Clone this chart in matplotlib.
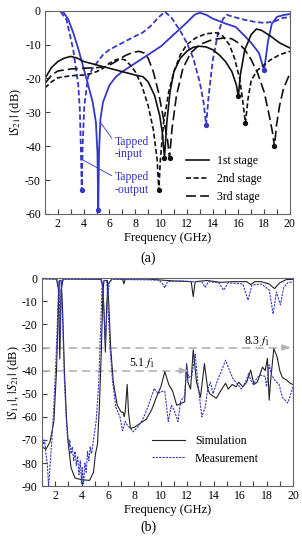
import matplotlib
matplotlib.use('Agg')
import matplotlib.pyplot as plt
from matplotlib.ticker import MultipleLocator

plt.rcParams['font.family'] = ['Liberation Serif', 'DejaVu Serif']
plt.rcParams['mathtext.fontset'] = 'stix'
plt.rcParams['axes.unicode_minus'] = False
plt.rcParams['font.size'] = 8.5

BLUE = '#3636c8'
GRAY = '#b4b4b4'

# ---- (a) |S21| of the stages ----
tin_x = [1, 2.0, 2.4, 2.8, 3.2, 3.6, 3.96, 4.35, 4.7, 4.95, 5.07, 5.13, 5.19, 5.3, 5.5, 6.0, 6.5, 7.0, 8.0, 9.0,
         10.0, 11.0, 12.0, 12.6, 13.0, 13.5, 14.0, 15.0, 15.8, 16.5, 17.0, 17.6, 18.0, 18.3, 18.6, 19.0, 19.6, 20]
tin_y = [0, 0, -0.3, -2.5, -6.6, -11.5, -16.5, -22, -27, -33, -42, -59, -42, -32, -27, -22, -19.5, -18, -15.5, -13,
         -10.5, -7, -3.5, -1.2, -0.6, -1.2, -2.3, -3.8, -4.8, -7.5, -9.5, -12.5, -17.6, -9, -3.8, -1.8, -1.2, -1]

tout_x = [1, 2.16, 2.67, 3.19, 3.57, 3.7, 3.78, 3.85, 3.92, 4.05, 4.35, 4.7, 5.0, 5.5, 6.0, 7.0, 8.0, 8.6, 9.2, 9.8,
          10.3, 10.8, 11.5, 12.0, 12.5, 13.0, 13.3, 13.5, 13.7, 14.0, 14.4, 14.8, 15.1, 15.6, 16.5, 17.3, 18.0,
          18.8, 19.4, 20]
tout_y = [0, 0, -2.7, -11.5, -21.4, -29, -40, -53, -40, -28, -19.4, -17, -15.5, -13, -11.5, -9.5, -7.5, -6.4, -4.5, -2,
          -0.3, -2, -6, -9.5, -14, -21, -27, -33.7, -25, -15, -7, -2.5, -1.2, -1.8, -2.7, -3.3, -3.6,
          -3.2, -2.2, -1.8]

st1_x = [1.0, 1.5, 2.0, 2.5, 3.0, 3.5, 4.0, 5.0, 6.0, 7.0, 8.0, 8.6, 9.0, 9.5, 9.9, 10.1, 10.27, 10.45, 10.7, 11.0,
         11.5, 12.0, 12.5, 13.0, 13.5, 14.0, 14.5, 15.0, 15.5, 15.85, 16.0, 16.15, 16.5, 17.0, 17.4, 17.8, 18.5,
         19.2, 20]
st1_y = [-20, -16.8, -15, -14, -13.5, -14, -15, -16, -17, -18, -19, -19.5, -21, -25, -31, -36, -43.4, -33, -24, -18,
         -14, -12, -10.8, -10.5, -10.7, -11.5, -13, -15, -18, -22, -25.3, -19, -11.5, -7, -5.4, -5.8, -7.5,
         -9.5, -11]

st2_x = [1.0, 1.5, 2.0, 3.0, 4.0, 4.5, 5.0, 5.5, 6.0, 6.5, 6.8, 7.2, 7.6, 8.0, 8.5, 9.0, 9.4, 9.7, 9.83, 9.95, 10.2,
         10.6, 11.0, 11.5, 12.0, 12.7, 13.5, 14.3, 14.8, 15.3, 15.7, 16.1, 16.35, 16.55, 16.75, 17.0, 17.5, 18.0,
         18.5, 19.2, 20]
st2_y = [-22.8, -21, -19.8, -19.2, -19, -18.6, -18, -17, -15.5, -14.5, -14.2, -14.5, -16, -18, -22, -28, -35, -44,
         -53, -44, -33, -24, -18, -13, -10, -8, -6.8, -6.5, -7.5, -10, -14, -20, -27, -33.2, -26, -20.5, -17.5,
         -16, -14.5, -13, -12]

st3_x = [1.0, 1.5, 2.0, 3.0, 4.0, 5.0, 5.8, 6.5, 7.2, 7.8, 8.3, 8.7, 9.0, 9.4, 9.8, 10.2, 10.5, 10.66, 10.85, 11.2,
         11.7, 12.3, 13.0, 14.0, 15.0, 15.5, 16.0, 16.5, 17.0, 17.5, 18.0, 18.4, 18.65, 18.8, 18.95, 19.2, 19.5,
         20]
st3_y = [-21.5, -19, -17.8, -17.2, -17, -16.8, -16.5, -15, -13.3, -12.3, -12, -12.5, -14, -18, -24, -32, -38, -43.4,
         -35, -25, -17, -12.5, -10, -8.5, -8, -8.3, -9.5, -11.5, -14.5, -18.5, -24, -31, -36, -40.1, -34, -28,
         -23, -18.5]

blue_dot_x = [3.85, 5.13, 13.5, 18.0]
blue_dot_y = [-53, -59, -33.7, -17.6]
black_dot_x = [9.83, 10.27, 10.66, 16.0, 16.55, 18.8]
black_dot_y = [-53, -43.4, -43.4, -25.3, -33.2, -40.1]

# ---- (b) measured vs simulated ----
s11_sim_x = [1.0, 2.1, 2.25, 2.35, 2.45, 2.6, 5.45, 5.6, 5.7, 5.8, 5.9, 6.0, 6.3, 7.1, 7.2, 7.3, 9.0, 10.0, 11.0,
             12.3, 12.45, 12.6, 13.5, 14.5, 15.5, 16.5, 16.8, 17.1, 17.6, 18.2, 18.6, 19.0, 19.5, 20]
s11_sim_y = [-0.2, -0.3, -5, -35, -5, -0.3, -0.5, -3, -15, -32, -12, -2.5, -0.3, -0.4, -2.5, -0.4, -0.4, -0.8, -1.2,
             -1.5, -8, -1.5, -1.0, -1.8, -1.5, -1.5, -2.8, -1.5, -1.5, -2.5, -4.5, -2, -0.6, -0.5]

s11_mea_x = [1.0, 2.15, 2.3, 2.38, 2.45, 2.6, 5.5, 5.6, 5.7, 5.8, 5.85, 5.95, 6.1, 6.3, 9.8, 10.1, 10.3, 10.5, 11.5,
             12.4, 13.1, 13.35, 13.6, 14.4, 14.75, 15.1, 16.2, 16.6, 16.9, 17.6, 18.2, 18.5, 18.75, 19.05, 19.3,
             19.6, 20]
s11_mea_y = [-0.3, -0.5, -5, -25, -5, -0.5, -0.5, -4, -15, -28, -22, -10, -2, -0.5, -0.8, -2, -4.2, -1.5, -1.2,
             -1.5, -1.5, -4, -1.5, -2, -5.2, -2, -2.5, -9.5, -3, -2.5, -5, -15.5, -6, -11.5, -4,
             -2, -1.5]

s21_sim_x = [1.0, 1.3, 1.6, 1.9, 2.1, 2.25, 2.32, 2.45, 2.55, 2.7, 2.85, 3.0, 3.2, 3.5, 4.0, 4.6, 4.9, 5.05, 5.2,
             5.35, 5.5, 5.62, 5.7, 5.95, 6.05, 6.2, 6.4, 6.7, 7.0, 7.15, 7.22, 7.3, 7.45, 7.55, 7.7, 8.0, 8.9, 9.3,
             9.7, 10.0, 10.3, 10.6, 10.9, 11.2, 11.8, 11.95, 12.05, 12.25, 12.45, 12.7, 13.0, 13.3, 13.55, 13.7,
             14.2, 14.5, 14.9, 15.1, 15.4, 15.7, 15.9, 16.2, 16.5, 16.8, 17.05, 17.3, 17.7, 17.9, 18.07, 18.2,
             18.3, 18.55, 18.8, 19.0, 19.2, 19.5, 19.8, 20]
s21_sim_y = [-73, -74, -71, -62, -40, -10, -1, -1, -12, -40, -60, -72, -82, -86.5, -87.2, -87.5, -84, -76, -72,
             -55, -30, -5, -1, -1, -10, -30, -45, -55, -58, -58, -60, -58, -46, -58, -65, -64.5, -61, -57,
             -51, -47, -40.5, -46, -49, -55, -53.5, -37, -45, -48, -31, -45, -51.5, -37, -48, -50,
             -52, -49, -45.5, -48, -46, -47, -45, -47, -45, -39.8, -46, -45, -38.5, -40, -34.7, -52.8,
             -45, -30.5, -34, -40, -43, -44, -45.5, -46]

s21_mea_x = [1.0, 1.1, 1.2, 1.3, 1.4, 1.5, 1.6, 1.75, 1.9, 2.1, 2.25, 2.3, 2.45, 2.55, 2.7, 2.85, 2.95, 3.05, 3.1,
             3.2, 3.3, 3.4, 3.5, 3.6, 3.7, 3.8, 3.9, 4.0, 4.05, 4.15, 4.25, 4.35, 4.45, 4.55, 4.65, 4.75, 4.85,
             5.0, 5.1, 5.3, 5.45, 5.55, 5.65, 5.9, 6.0, 6.15, 6.35, 6.6, 6.9, 7.1, 7.3, 7.5, 7.7, 7.9, 8.3, 8.6,
             9.0, 9.5, 9.8, 10.0, 10.3, 10.56, 10.8, 11.0, 11.3, 11.5, 11.8, 11.95, 12.1, 12.35, 12.6, 12.8,
             13.1, 13.35, 13.55, 13.75, 13.95, 14.3, 14.6, 14.9, 15.2, 15.5, 15.7, 16.1, 16.4, 16.66, 16.8,
             17.0, 17.3, 17.55, 17.9, 18.0, 18.2, 18.4, 18.6, 18.95, 19.2, 19.6, 19.85, 20]
s21_mea_y = [-68, -72, -70, -76, -80, -90, -82, -70, -55, -30, -5, -1, -1, -15, -45, -62, -70, -73, -70,
             -76, -73, -79, -75, -81, -77, -85, -79, -89, -82, -89, -80, -84, -75, -79, -73, -76, -72,
             -66, -62, -45, -20, -3, -1, -1, -12, -30, -45, -56, -60, -66, -62, -64, -65, -66.5, -64, -61.5,
             -56, -47.7, -50, -49, -49, -62, -55, -57, -62, -53, -51, -38, -43, -42, -33, -45,
             -60, -56, -48, -45, -50, -44, -40, -35.5, -40, -44, -45, -48, -45, -41, -44,
             -46, -43, -42, -42.5, -47, -37.5, -42, -44, -46, -51.5, -54, -50, -47]


def style_axes(ax, ymin):
    ax.set_xlim(1, 20)
    ax.set_ylim(ymin, 0)
    ax.xaxis.set_major_locator(MultipleLocator(2))
    ax.xaxis.set_minor_locator(MultipleLocator(1))
    ax.yaxis.set_major_locator(MultipleLocator(10))
    ax.tick_params(which='both', direction='in', length=3.5, width=0.8, color='#444444',
                   top=False, right=False, labelsize=8.5, pad=3)
    for s in ax.spines.values():
        s.set_color('#666666')
        s.set_linewidth(0.8)
    ax.set_xlabel('Frequency (GHz)', fontsize=9, labelpad=1.5)


fig = plt.figure(figsize=(3.02, 5.36), dpi=100)

ax1 = fig.add_axes([0.149, 0.601, 0.811, 0.379])
ax1.plot(tin_x, tin_y, color=BLUE, lw=1.3)
ax1.plot(tout_x, tout_y, color=BLUE, lw=1.3, ls=(0, (3, 1.5)))
ax1.plot(st1_x, st1_y, color='#111111', lw=1.2, label='1st stage')
ax1.plot(st2_x, st2_y, color='#111111', lw=1.2, ls=(0, (3, 1.6)), label='2nd stage')
ax1.plot(st3_x, st3_y, color='#111111', lw=1.2, ls=(0, (6, 2.5)), label='3rd stage')
ax1.plot(blue_dot_x, blue_dot_y, 'o', color=BLUE, ms=2.8)
ax1.plot(black_dot_x, black_dot_y, 'o', color='#111111', ms=2.8)

ax1.annotate('Tapped\n-input', xy=(5.3, -33), xytext=(6.4, -40.6), color=BLUE, fontsize=8.5,
             ha='left', va='center', linespacing=1.05,
             arrowprops=dict(arrowstyle='-', color=BLUE, lw=0.6, shrinkA=0, shrinkB=0,
                             relpos=(0, 0.75)))
ax1.annotate('Tapped\n-output', xy=(3.9, -44), xytext=(6.4, -51), color=BLUE, fontsize=8.5,
             ha='left', va='center', linespacing=1.05,
             arrowprops=dict(arrowstyle='-', color=BLUE, lw=0.6, shrinkA=0, shrinkB=0,
                             relpos=(0, 0.75)))
ax1.legend(loc='upper left', bbox_to_anchor=(0.575, 0.29), frameon=False, fontsize=8.5,
           handlelength=2.0, handletextpad=0.6, labelspacing=0.5, borderpad=0, borderaxespad=0)
style_axes(ax1, -60)
ax1.set_ylabel(r'$|S_{21}|$ (dB)', fontsize=9, labelpad=1)
fig.text(0.49, 0.519, '(a)', ha='center', va='center', fontsize=10)

ax2 = fig.add_axes([0.139, 0.093, 0.831, 0.388])
# harmonic suppression markers
ax2.plot([1, 12.0], [-40, -40], color=GRAY, lw=1.2, ls=(0, (5, 3)))
ax2.annotate('', xy=(12.24, -40), xytext=(11.7, -40),
             arrowprops=dict(arrowstyle='-|>,head_length=0.5,head_width=0.2', color=GRAY, lw=1.2))
ax2.plot([1, 19.7], [-30, -30], color=GRAY, lw=1.2, ls=(0, (5, 3)))
ax2.annotate('', xy=(20, -30), xytext=(19.4, -30), annotation_clip=False,
             arrowprops=dict(arrowstyle='-|>,head_length=0.5,head_width=0.2', color=GRAY, lw=1.2))
ax2.text(8.6, -36.5, r'5.1 $f_1$', ha='center', va='center', fontsize=8.5)
ax2.text(17.3, -27.3, r'8.3 $f_1$', ha='center', va='center', fontsize=8.5)

ax2.plot(s11_sim_x, s11_sim_y, color='#222222', lw=0.8, label='Simulation')
ax2.plot(s21_sim_x, s21_sim_y, color='#222222', lw=0.8)
ax2.plot(s11_mea_x, s11_mea_y, color=BLUE, lw=0.8, ls=(0, (2, 1)), label='Measurement')
ax2.plot(s21_mea_x, s21_mea_y, color=BLUE, lw=0.8, ls=(0, (2, 1)))
ax2.legend(loc='upper left', bbox_to_anchor=(0.44, 0.245), frameon=False, fontsize=8.5,
           handlelength=2.8, handletextpad=0.8, labelspacing=0.45, borderpad=0, borderaxespad=0)
style_axes(ax2, -90)
ax2.set_ylabel(r'$|S_{11}|$, $|S_{21}|$ (dB)', fontsize=9, labelpad=0)
fig.text(0.49, 0.017, '(b)', ha='center', va='center', fontsize=10)

fig.savefig('out.png', dpi=100)
